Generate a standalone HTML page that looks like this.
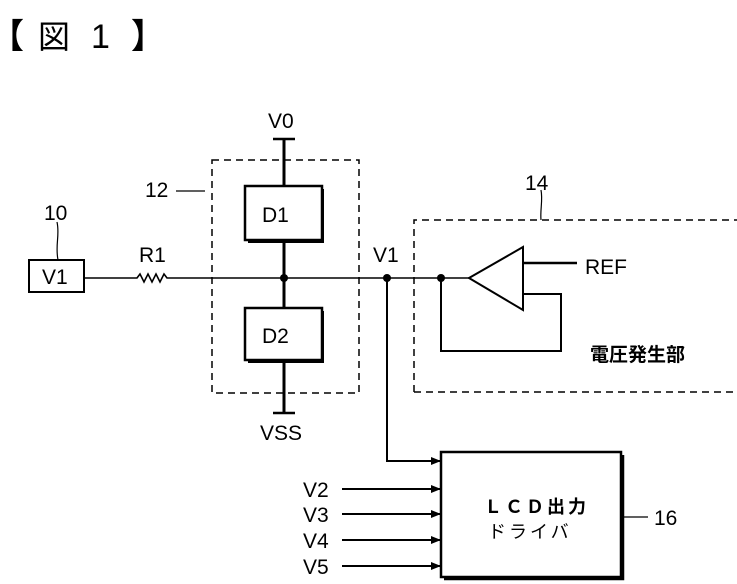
<!DOCTYPE html>
<html><head><meta charset="utf-8"><style>
html,body{margin:0;padding:0;background:#fff;}
svg{display:block;}
text{font-family:"Liberation Sans","Noto Sans CJK JP",sans-serif;fill:#000;}
.jp{font-family:"Noto Sans CJK JP",sans-serif;}
</style></head><body>
<svg width="737" height="584" viewBox="0 0 737 584" xmlns="http://www.w3.org/2000/svg">
<defs><marker id="ar" markerWidth="10" markerHeight="8" refX="10" refY="4" orient="auto" markerUnits="userSpaceOnUse"><path d="M0,0 L10,4 L0,8 z" fill="#000"/></marker></defs>
<text class="jp" x="-10" y="48" font-size="34" font-weight="bold">【</text>
<text class="jp" x="38" y="48" font-size="32">図</text>
<text x="91" y="48" font-size="34">1</text>
<text class="jp" x="131" y="48" font-size="34" font-weight="bold">】</text>

<g stroke="#000" fill="none">
<rect x="212" y="160" width="147" height="233" stroke-width="1.5" stroke-dasharray="7,5"/>
<path d="M414,392 V220 H737 M414,392 H737" stroke-width="1.5" stroke-dasharray="7,5"/>
<rect x="29" y="260" width="55" height="32" stroke-width="2"/>
<path d="M58,260 C55,245 60,235 57,222" stroke-width="1.2"/>
<path d="M84,278 H137 l3,-4 l4,8 l4,-8 l4,8 l4,-8 l4,8 l4,-8 l3,4 H469" stroke-width="1.6"/>
<path d="M284,139 V186 M284,240 V308 M284,360 V413" stroke-width="3"/>
<path d="M273,139 H295 M273,413 H295" stroke-width="2.5"/>
<rect x="245" y="186" width="77" height="54" stroke-width="2.5"/>
<path d="M323,189 V242 H248" stroke-width="2"/>
<rect x="245" y="308" width="77" height="52" stroke-width="2.5"/>
<path d="M323,311 V362 H248" stroke-width="2"/>
<path d="M176,191 H205" stroke-width="1.2"/>
<path d="M469,278 L523,247 V310 Z" stroke-width="2"/>
<path d="M523,263 H577" stroke-width="2.5"/>
<path d="M523,294 H561 V351 H441 V278" stroke-width="2"/>
<path d="M541,190 C543,200 540,210 541,220" stroke-width="1.2"/>
<path d="M387,278 V461 H441" stroke-width="2" marker-end="url(#ar)"/>
<path d="M342,489 H441" stroke-width="2" marker-end="url(#ar)"/>
<path d="M342,514 H441" stroke-width="2" marker-end="url(#ar)"/>
<path d="M342,540 H441" stroke-width="2" marker-end="url(#ar)"/>
<path d="M342,566 H441" stroke-width="2" marker-end="url(#ar)"/>
<rect x="441" y="452" width="180" height="125" stroke-width="2.5"/>
<path d="M623,455 V579 H444" stroke-width="2.5"/>
<path d="M624,517 H648" stroke-width="1.2"/>
</g>
<g fill="#000">
<circle cx="284" cy="278" r="4"/><circle cx="387" cy="278" r="4"/><circle cx="441" cy="278" r="4"/>
</g>
<g font-size="21">
<text x="42" y="284">V1</text>
<text x="139" y="262">R1</text>
<text x="44" y="220">10</text>
<text x="145" y="197">12</text>
<text x="268" y="128">V0</text>
<text x="260" y="440">VSS</text>
<text x="262" y="222">D1</text>
<text x="262" y="343">D2</text>
<text x="373" y="262">V1</text>
<text x="525" y="190">14</text>
<text x="585" y="274">REF</text>
<text x="303" y="497">V2</text>
<text x="303" y="522">V3</text>
<text x="303" y="548">V4</text>
<text x="303" y="574">V5</text>
<text x="654" y="525">16</text>
</g>
<text class="jp" x="590" y="361" font-size="19" font-weight="bold">電圧発生部</text>
<text class="jp" x="484" y="513" font-size="18" font-weight="bold" letter-spacing="3">ＬＣＤ出力</text>
<text class="jp" x="488" y="538" font-size="18" letter-spacing="3">ドライバ</text>
</svg>
</body></html>
